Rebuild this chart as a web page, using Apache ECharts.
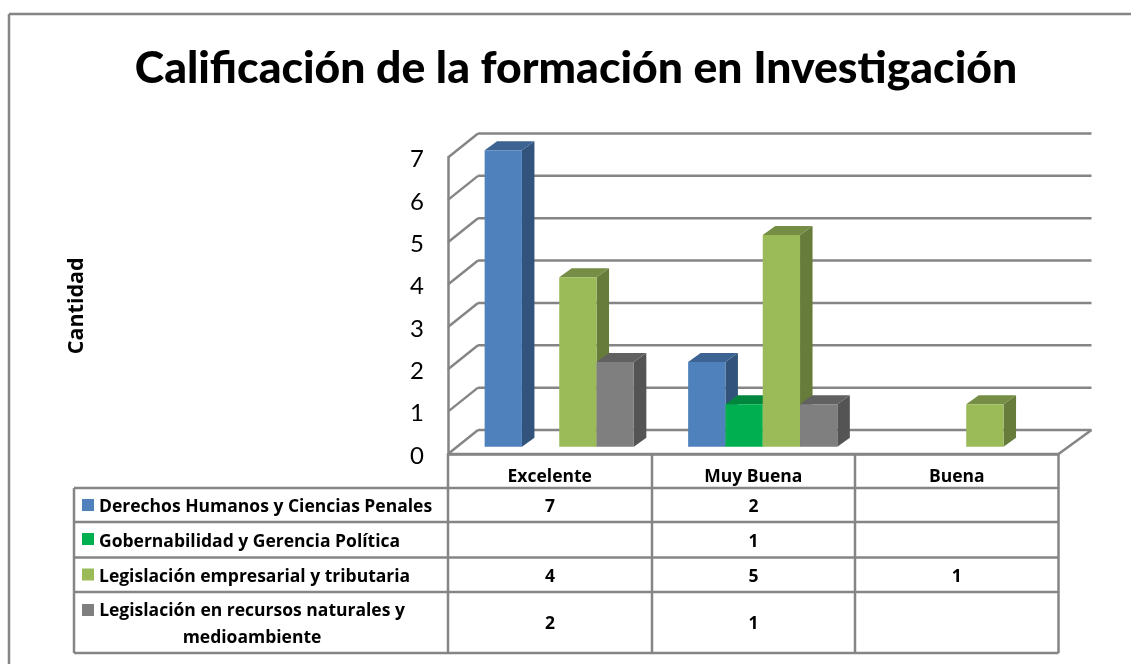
<!DOCTYPE html>
<html>
<head>
<meta charset="utf-8">
<style>
  html, body { margin: 0; padding: 0; background: #fff; }
  #chart { width: 1131px; height: 664px; }
</style>
<script src="https://cdn.jsdelivr.net/npm/echarts@6/dist/echarts.min.js"></script>
</head>
<body>
<div id="chart"></div>
<script>
const categories = ['Excelente', 'Muy Buena', 'Buena'];
const yTicks = [0, 1, 2, 3, 4, 5, 6, 7];

const derechos = [7, 2, null];
const gobernabilidad = [null, 1, null];
const empresarial = [4, 5, 1];
const recursos = [2, 1, null];

const seriesNames = [
  'Derechos Humanos y Ciencias Penales',
  'Gobernabilidad y Gerencia Política',
  'Legislación empresarial y tributaria',
  'Legislación en recursos naturales y\nmedioambiente'
];
const seriesValues = [derechos, gobernabilidad, empresarial, recursos];

// front, side, top
const colors = [
  ['#4f81bd', '#32537c', '#3c6391'],
  ['#00b050', '#007a38', '#00873d'],
  ['#9bbb59', '#677c3a', '#758d44'],
  ['#7f7f7f', '#545454', '#616161']
];

const FONT = 'Lato';
const TABLE_FONT = '"Open Sans"';
const TABLE_SIZE = 17.5;
const LINE = '#858585';

// data table layout
const tableLeft = 74;
const colX = [448, 652, 855, 1058.5];
const rowY = [488, 522, 557.5, 592, 653];
const headerTop = 454;

const wallLeft = 30;
const wallRight = 33;
const wallDy = 24;

function renderWall(params, api) {
  const cs = params.coordSys;
  const y = api.coord([0, api.value(0)])[1];
  const x0 = cs.x, x1 = cs.x + cs.width;
  const lines = [
    [[x0, y], [x0 + wallLeft, y - wallDy]],
    [[x0 + wallLeft, y - wallDy], [x1 + wallRight, y - wallDy]]
  ];
  if (api.value(0) === 0) lines.push([[x1, y], [x1 + wallRight, y - wallDy]]);
  return {
    type: 'group',
    children: lines.map(l => ({
      type: 'polyline',
      shape: { points: l },
      style: { stroke: LINE, lineWidth: 2.5, fill: null }
    }))
  };
}

function barRender(idx) {
  return function (params, api) {
    const c = api.coord([api.value(0), api.value(1)]);
    const base = api.coord([api.value(0), 0])[1] - 7.3;
    const band = api.size([1, 0])[0];
    const w = band * 0.1833;
    const x = c[0] - band / 2 + band * 0.18 + idx * w;
    const top = c[1] - 7.3;
    const dx = 12.5, dy = 9;
    const [front, side, cap] = colors[idx];
    return {
      type: 'group',
      children: [
        { type: 'polygon', shape: { points: [[x + w, top], [x + w + dx, top - dy], [x + w + dx, base - dy], [x + w, base]] }, style: { fill: side } },
        { type: 'polygon', shape: { points: [[x, top], [x + dx, top - dy], [x + w + dx, top - dy], [x + w, top]] }, style: { fill: cap } },
        { type: 'rect', shape: { x: x, y: top, width: w, height: base - top }, style: { fill: front } }
      ]
    };
  };
}

function tableGraphics() {
  const g = [];
  const line = (x1, y1, x2, y2) => g.push({
    type: 'line', silent: true, z: 5,
    shape: { x1, y1, x2, y2 },
    style: { stroke: LINE, lineWidth: 2.5 }
  });
  const text = (x, y, t, align) => g.push({
    type: 'text', silent: true, z: 6, x, y,
    style: { text: t, font: 'bold ' + TABLE_SIZE + 'px ' + TABLE_FONT, fill: '#000', align: align, verticalAlign: 'middle', lineHeight: 27 }
  });
  // outer chart border, right and bottom sides fall off the picture
  line(9, 14, 1131, 14);
  line(9, 14, 9, 664);

  line(colX[0], headerTop, colX[3], headerTop);
  colX.forEach(x => line(x, headerTop, x, rowY[rowY.length - 1]));
  line(tableLeft, rowY[0], tableLeft, rowY[rowY.length - 1]);
  rowY.forEach(y => line(tableLeft, y, colX[3], y));

  seriesNames.forEach((name, r) => {
    const swatchY = r === 3 ? 604 : rowY[r] + 11;
    g.push({
      type: 'rect', silent: true, z: 6,
      shape: { x: 82, y: swatchY, width: 12, height: 12 },
      style: { fill: colors[r][0] }
    });
    const mid = (rowY[r] + rowY[r + 1]) / 2 + 2;
    if (r === 3) text(252, mid, name, 'center');
    else text(99, mid, name, 'left');
    categories.forEach((c, i) => {
      const v = seriesValues[r][i];
      if (v !== null) text((colX[i] + colX[i + 1]) / 2, mid, String(v), 'center');
    });
  });
  return g;
}

const chart = echarts.init(document.getElementById('chart'), null, { renderer: 'canvas' });

chart.setOption({
  animation: false,
  backgroundColor: '#fff',
  title: {
    text: 'Calificación de la formación en Investigación',
    left: 571,
    top: 41,
    textAlign: 'center',
    textStyle: { fontFamily: FONT, fontWeight: 900, fontSize: 44.5, color: '#000' }
  },
  grid: { left: 448, width: 610.5, top: 157.5, height: 296.5 },
  xAxis: {
    type: 'category',
    data: categories,
    axisLine: { lineStyle: { color: LINE, width: 2.5 } },
    axisTick: { show: false },
    axisLabel: { color: '#000', fontFamily: 'Open Sans', fontWeight: 'bold', fontSize: TABLE_SIZE, margin: 14 }
  },
  yAxis: {
    type: 'value',
    min: 0,
    max: 7,
    interval: 1,
    name: 'Cantidad',
    nameLocation: 'middle',
    nameGap: 360,
    nameTextStyle: { color: '#000', fontFamily: 'Open Sans', fontWeight: 'bold', fontSize: 21.5 },
    axisLine: { show: true, lineStyle: { color: LINE, width: 2.5 } },
    axisTick: { show: false },
    splitLine: { show: false },
    axisLabel: { color: '#000', fontFamily: FONT, fontSize: 24, margin: 24, verticalAlign: 'top', lineHeight: 4 }
  },
  series: [
    {
      type: 'custom',
      name: 'walls',
      silent: true,
      z: 1,
      renderItem: renderWall,
      encode: { y: 0 },
      data: yTicks.map(t => [t])
    }
  ].concat(seriesNames.map((name, idx) => ({
    type: 'custom',
    name: name,
    z: 2 + idx,
    renderItem: barRender(idx),
    encode: { x: 0, y: 1 },
    data: seriesValues[idx].map((v, i) => [i, v]).filter(d => d[1] !== null)
  }))),
  graphic: tableGraphics()
});
</script>
</body>
</html>
